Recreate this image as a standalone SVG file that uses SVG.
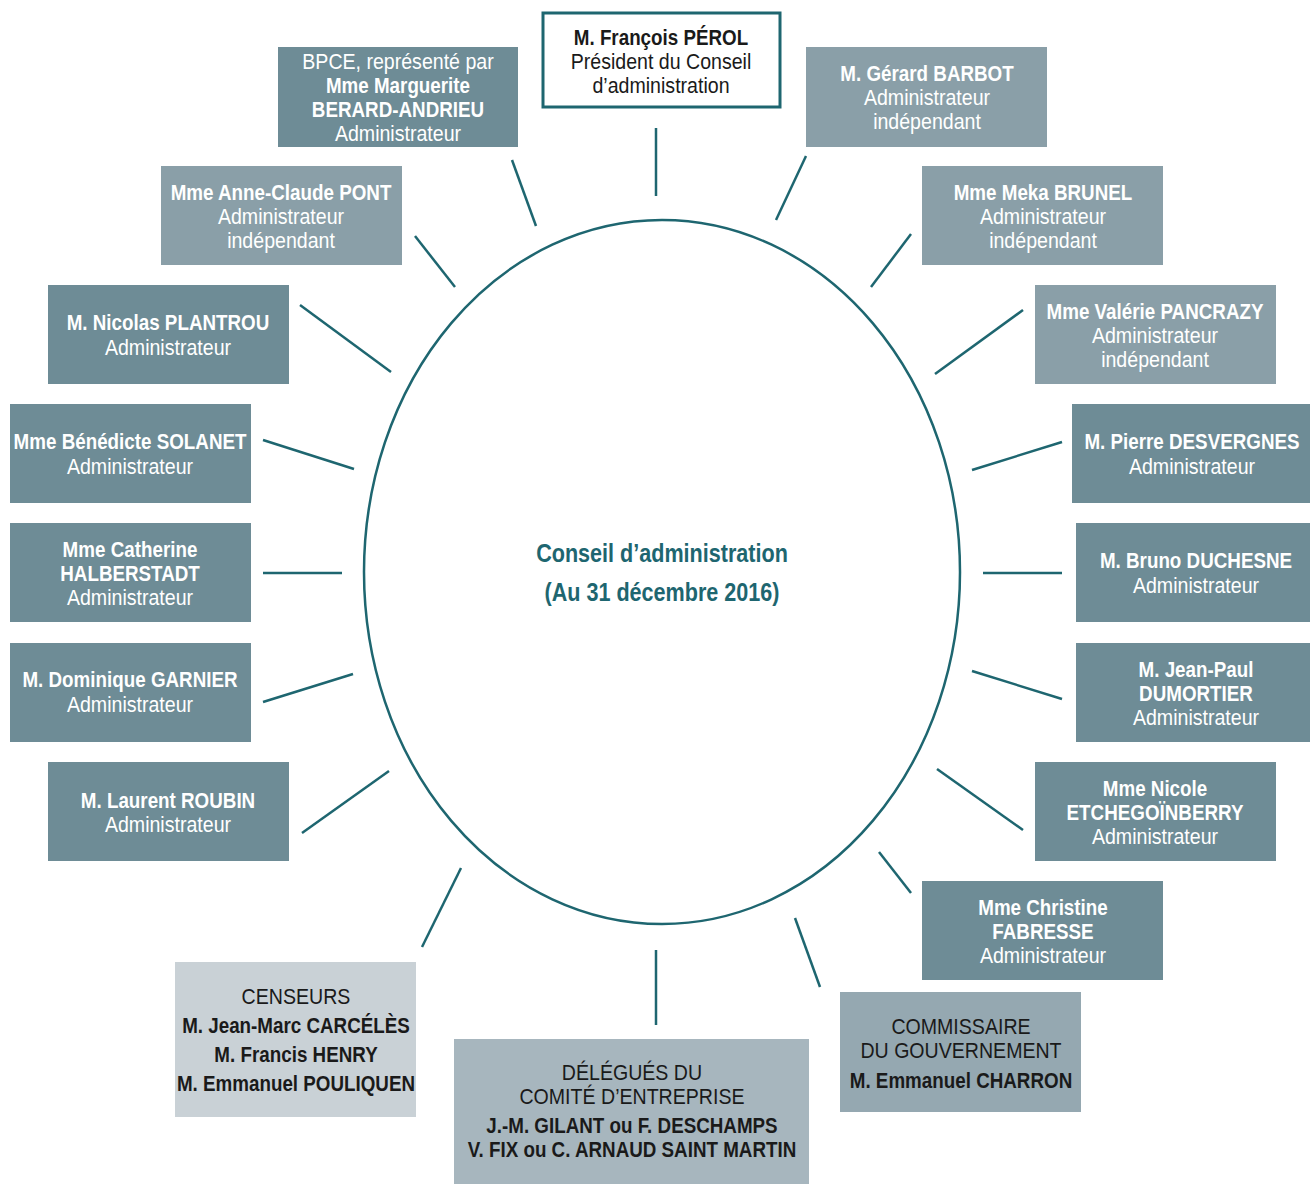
<svg xmlns="http://www.w3.org/2000/svg" width="1310" height="1184" viewBox="0 0 1310 1184">
<style>
text{font-family:"Liberation Sans",Arial,sans-serif;font-size:22px;text-anchor:middle;fill:#fff;transform-box:fill-box;transform-origin:center;transform:scaleX(.89)}
.b{font-weight:bold;transform:scaleX(.855)}
.k{fill:#1a1a1a}
.dark{fill:#6e8c96}
.light{fill:#8a9fa8}
.cens{fill:#c9d1d6}
.deleg{fill:#a7b6be}
.comm{fill:#95a8b1}
.title{font-size:26px;font-weight:bold;fill:#1e6670;transform:scaleX(.83)}
#connectors line,#connectors ellipse{stroke:#1e6670;stroke-width:2.5;fill:none}
</style>
<g id="connectors">
<ellipse cx="662" cy="572" rx="298" ry="352"/>
<line x1="656" y1="128" x2="656" y2="196"/>
<line x1="512" y1="160" x2="536" y2="226"/>
<line x1="806" y1="156" x2="776" y2="220"/>
<line x1="415" y1="236" x2="455" y2="287"/>
<line x1="911" y1="234" x2="871" y2="287"/>
<line x1="300" y1="305" x2="391" y2="372"/>
<line x1="1023" y1="310" x2="935" y2="374"/>
<line x1="263" y1="440" x2="354" y2="469"/>
<line x1="1062" y1="442" x2="972" y2="470"/>
<line x1="263" y1="573" x2="342" y2="573"/>
<line x1="983" y1="573" x2="1062" y2="573"/>
<line x1="263" y1="702" x2="353" y2="674"/>
<line x1="972" y1="671" x2="1062" y2="699"/>
<line x1="302" y1="833" x2="389" y2="771"/>
<line x1="937" y1="769" x2="1023" y2="830"/>
<line x1="879" y1="852" x2="911" y2="893"/>
<line x1="795" y1="918" x2="820" y2="987"/>
<line x1="656" y1="950" x2="656" y2="1025"/>
<line x1="461" y1="868" x2="422" y2="947"/>
</g>
<g id="center">
<text class="title" x="662" y="562">Conseil d’administration</text>
<text class="title" x="662" y="601">(Au 31 décembre 2016)</text>
</g>
<g id="perol">
<rect x="543" y="13" width="237" height="94" fill="#fff" stroke="#1e6670" stroke-width="3"/>
<text class="b k" x="661" y="45">M. François PÉROL</text>
<text class="k" x="661" y="69">Président du Conseil</text>
<text class="k" x="661" y="93">d’administration</text>
</g>
<g id="bpce">
<rect class="dark" x="278" y="47" width="240" height="100"/>
<text x="398" y="69">BPCE, représenté par</text>
<text class="b" x="398" y="93">Mme Marguerite</text>
<text class="b" x="398" y="117">BERARD-ANDRIEU</text>
<text x="398" y="141">Administrateur</text>
</g>
<g id="barbot">
<rect class="light" x="806" y="47" width="241" height="100"/>
<text class="b" x="927" y="81">M. Gérard BARBOT</text>
<text x="927" y="105">Administrateur</text>
<text x="927" y="129">indépendant</text>
</g>
<g id="pont">
<rect class="light" x="161" y="166" width="241" height="99"/>
<text class="b" x="281" y="200">Mme Anne-Claude PONT</text>
<text x="281" y="224">Administrateur</text>
<text x="281" y="248">indépendant</text>
</g>
<g id="brunel">
<rect class="light" x="922" y="166" width="241" height="99"/>
<text class="b" x="1043" y="200">Mme Meka BRUNEL</text>
<text x="1043" y="224">Administrateur</text>
<text x="1043" y="248">indépendant</text>
</g>
<g id="plantrou">
<rect class="dark" x="48" y="285" width="241" height="99"/>
<text class="b" x="168" y="330">M. Nicolas PLANTROU</text>
<text x="168" y="355">Administrateur</text>
</g>
<g id="pancrazy">
<rect class="light" x="1035" y="285" width="241" height="99"/>
<text class="b" x="1155" y="319">Mme Valérie PANCRAZY</text>
<text x="1155" y="343">Administrateur</text>
<text x="1155" y="367">indépendant</text>
</g>
<g id="solanet">
<rect class="dark" x="10" y="404" width="241" height="99"/>
<text class="b" x="130" y="449">Mme Bénédicte SOLANET</text>
<text x="130" y="474">Administrateur</text>
</g>
<g id="desvergnes">
<rect class="dark" x="1072" y="404" width="238" height="99"/>
<text class="b" x="1192" y="449">M. Pierre DESVERGNES</text>
<text x="1192" y="474">Administrateur</text>
</g>
<g id="halberstadt">
<rect class="dark" x="10" y="523" width="241" height="99"/>
<text class="b" x="130" y="557">Mme Catherine</text>
<text class="b" x="130" y="581">HALBERSTADT</text>
<text x="130" y="605">Administrateur</text>
</g>
<g id="duchesne">
<rect class="dark" x="1076" y="523" width="234" height="99"/>
<text class="b" x="1196" y="568">M. Bruno DUCHESNE</text>
<text x="1196" y="593">Administrateur</text>
</g>
<g id="garnier">
<rect class="dark" x="10" y="643" width="241" height="99"/>
<text class="b" x="130" y="687">M. Dominique GARNIER</text>
<text x="130" y="712">Administrateur</text>
</g>
<g id="dumortier">
<rect class="dark" x="1076" y="643" width="234" height="99"/>
<text class="b" x="1196" y="677">M. Jean-Paul</text>
<text class="b" x="1196" y="701">DUMORTIER</text>
<text x="1196" y="725">Administrateur</text>
</g>
<g id="roubin">
<rect class="dark" x="48" y="762" width="241" height="99"/>
<text class="b" x="168" y="808">M. Laurent ROUBIN</text>
<text x="168" y="832">Administrateur</text>
</g>
<g id="etchegoinberry">
<rect class="dark" x="1035" y="762" width="241" height="99"/>
<text class="b" x="1155" y="796">Mme Nicole</text>
<text class="b" x="1155" y="820">ETCHEGOÏNBERRY</text>
<text x="1155" y="844">Administrateur</text>
</g>
<g id="fabresse">
<rect class="dark" x="922" y="881" width="241" height="99"/>
<text class="b" x="1043" y="915">Mme Christine</text>
<text class="b" x="1043" y="939">FABRESSE</text>
<text x="1043" y="963">Administrateur</text>
</g>
<g id="censeurs">
<rect class="cens" x="175" y="962" width="241" height="155"/>
<text class="k" x="296" y="1004">CENSEURS</text>
<text class="b k" x="296" y="1033">M. Jean-Marc CARCÉLÈS</text>
<text class="b k" x="296" y="1062">M. Francis HENRY</text>
<text class="b k" x="296" y="1091">M. Emmanuel POULIQUEN</text>
</g>
<g id="delegues">
<rect class="deleg" x="454" y="1039" width="355" height="145"/>
<text class="k" x="632" y="1080">DÉLÉGUÉS DU</text>
<text class="k" x="632" y="1104">COMITÉ D’ENTREPRISE</text>
<text class="b k" x="632" y="1133">J.-M. GILANT ou F. DESCHAMPS</text>
<text class="b k" x="632" y="1157">V. FIX ou C. ARNAUD SAINT MARTIN</text>
</g>
<g id="commissaire">
<rect class="comm" x="840" y="992" width="241" height="120"/>
<text class="k" x="961" y="1034">COMMISSAIRE</text>
<text class="k" x="961" y="1058">DU GOUVERNEMENT</text>
<text class="b k" x="961" y="1088">M. Emmanuel CHARRON</text>
</g>
</svg>
